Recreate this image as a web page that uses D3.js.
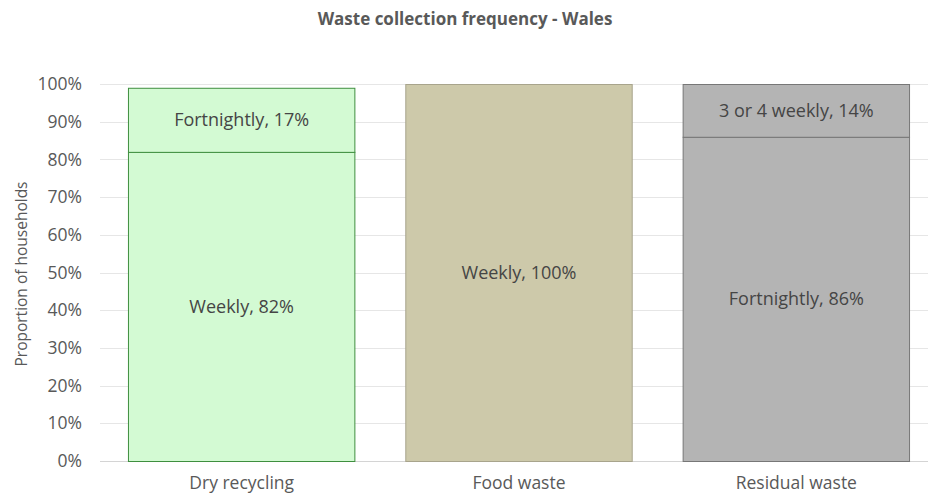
<!DOCTYPE html>
<html>
<head>
<meta charset="utf-8">
<script src="https://cdn.jsdelivr.net/npm/d3@7"></script>
<style>
  html, body { margin: 0; padding: 0; background: #fff; }
  svg text { font-family: "Open Sans", Lato, sans-serif; }
</style>
</head>
<body>
<svg id="chart" width="928" height="496"></svg>
<script>
// Collection frequency by waste stream
const categories = ["Dry recycling", "Food waste", "Residual waste"];
const lowerLabels = ["Weekly", "Weekly", "Fortnightly"];
const lowerValues = [82, 100, 86];
const upperLabels = ["Fortnightly", "", "3 or 4 weekly"];
const upperValues = [17, 0, 14];
const yTicks = [0, 10, 20, 30, 40, 50, 60, 70, 80, 90, 100];

const fills = ["#d3fad3", "#cdc9aa", "#b4b4b4"];
const strokes = ["#3f8f3f", "#a8a48c", "#777777"];
const FONT = "'Open Sans', Lato, sans-serif";

const table = categories.map((c, i) => ({
  category: c, i,
  lower: lowerValues[i], upper: upperValues[i],
  labels: { lower: lowerLabels[i], upper: upperLabels[i] }
}));
const stacked = d3.stack().keys(["lower", "upper"])(table);

const svg = d3.select("#chart");
const m = { left: 103, right: 928 + 7, top: 84, bottom: 461 };

const x = d3.scaleBand().domain(categories).range([m.left, m.right])
  .paddingInner(0.18).paddingOuter(0.09);
const y = d3.scaleLinear().domain([0, 100]).range([m.bottom, m.top]);

// title
svg.append("text")
  .attr("x", 465).attr("y", 25)
  .attr("text-anchor", "middle")
  .attr("font-size", 17).attr("font-weight", "bold")
  .attr("fill", "#595959")
  .text("Waste collection frequency - Wales");

// gridlines
svg.append("g").selectAll("line").data(yTicks).join("line")
  .attr("x1", 100).attr("x2", 928)
  .attr("y1", d => Math.round(y(d)) + 0.5).attr("y2", d => Math.round(y(d)) + 0.5)
  .attr("stroke", d => d === 0 ? "#d4d4d4" : "#e6e6e6").attr("stroke-width", 1);

// y axis tick labels
const yAxis = d3.axisLeft(y).tickValues(yTicks).tickFormat(d => d + "%").tickSize(0).tickPadding(0);
const gy = svg.append("g").attr("transform", "translate(82,0)").call(yAxis);
gy.select(".domain").remove();
gy.selectAll("text").attr("font-size", 17.5).attr("fill", "#595959")
  .style("font-family", FONT);

// y axis title
svg.append("text")
  .attr("transform", "translate(27,274) rotate(-90)")
  .attr("text-anchor", "middle")
  .attr("font-size", 15.5).attr("fill", "#595959")
  .text("Proportion of households");

// x axis category labels
const xAxis = d3.axisBottom(x).tickSize(0).tickPadding(0);
const gx = svg.append("g").attr("transform", "translate(0,489)").call(xAxis);
gx.select(".domain").remove();
gx.selectAll("text").attr("font-size", 17.5).attr("fill", "#595959").attr("dy", 0).attr("y", 0)
  .style("font-family", FONT);

// stacked bars
const segs = svg.append("g");
stacked.forEach(layer => {
  layer.forEach(d => {
    const i = d.data.i;
    if (d[1] - d[0] <= 0) return;
    segs.append("rect")
      .attr("x", x(d.data.category) + 0.5)
      .attr("y", y(d[1]) + 0.5)
      .attr("width", x.bandwidth() - 1)
      .attr("height", y(d[0]) - y(d[1]))
      .attr("fill", fills[i])
      .attr("stroke", strokes[i]).attr("stroke-width", 1);
  });
});

// segment labels
stacked.forEach(layer => {
  layer.forEach(d => {
    const i = d.data.i;
    const v = d[1] - d[0];
    if (v <= 0) return;
    segs.append("text")
      .attr("x", x(d.data.category) + x.bandwidth() / 2)
      .attr("y", y((d[0] + d[1]) / 2))
      .attr("dy", "0.35em")
      .attr("text-anchor", "middle")
      .attr("font-size", 18).attr("fill", "#454545")
      .text(d.data.labels[layer.key] + ", " + v + "%");
  });
});
</script>
</body>
</html>
